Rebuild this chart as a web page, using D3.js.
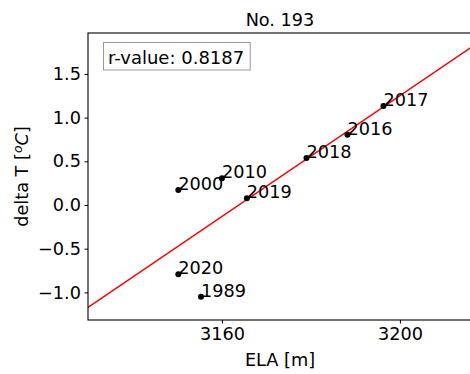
<!DOCTYPE html>
<html>
<head>
<meta charset="utf-8">
<script src="https://cdn.jsdelivr.net/npm/d3@7"></script>
<style>
  html, body { margin: 0; padding: 0; background: #fff; }
  svg { display: block; font-family: "DejaVu Sans", sans-serif; }
</style>
</head>
<body>
<svg id="chart" width="470" height="374"></svg>
<script>
// Glacier No. 193: equilibrium line altitude vs. temperature anomaly
const years = ["2017", "2016", "2018", "2019", "2010", "2000", "2020", "1989"];
const ela = [3196.3, 3188.2, 3179.0, 3165.6, 3160.0, 3150.2, 3150.2, 3155.3];
const deltaT = [1.133, 0.804, 0.538, 0.077, 0.305, 0.172, -0.793, -1.049];
const xTicks = [3160, 3200];
const yTicks = [-1.0, -0.5, 0.0, 0.5, 1.0, 1.5];
const rValue = "0.8187";
const title = "No. 193";

const svg = d3.select("#chart");
const m = { left: 88, right: 472, top: 33, bottom: 320 };
const fs = 17.7;

const x = d3.scaleLinear().domain([3129.9, 3216.2]).range([m.left, m.right]);
const y = d3.scaleLinear().domain([-1.316, 1.968]).range([m.bottom, m.top]);

svg.append("defs").append("clipPath").attr("id", "plotArea")
  .append("rect").attr("x", m.left).attr("y", m.top)
  .attr("width", m.right - m.left).attr("height", m.bottom - m.top);

// least-squares fit of deltaT on ELA
const n = ela.length;
const mx = d3.mean(ela), my = d3.mean(deltaT);
let sxy = 0, sxx = 0;
for (let i = 0; i < n; i++) {
  sxy += (ela[i] - mx) * (deltaT[i] - my);
  sxx += (ela[i] - mx) * (ela[i] - mx);
}
const slope = sxy / sxx, icpt = my - slope * mx;
const [x0, x1] = x.domain();

svg.append("line")
  .attr("clip-path", "url(#plotArea)")
  .attr("x1", x(x0)).attr("y1", y(icpt + slope * x0))
  .attr("x2", x(x1)).attr("y2", y(icpt + slope * x1))
  .attr("stroke", "#ff0000").attr("stroke-width", 1.5);

// points and year labels
const pts = svg.append("g").attr("clip-path", "url(#plotArea)");
years.forEach((yr, i) => {
  pts.append("circle")
    .attr("cx", x(ela[i])).attr("cy", y(deltaT[i])).attr("r", 3)
    .attr("fill", "#000");
  pts.append("text")
    .attr("x", x(ela[i])).attr("y", y(deltaT[i]))
    .attr("font-size", fs).attr("fill", "#000")
    .text(yr);
});

// axes
const xAxis = d3.axisBottom(x).tickValues(xTicks).tickFormat(d3.format("d"))
  .tickSize(3.5).tickPadding(3.5);
const yAxis = d3.axisLeft(y).tickValues(yTicks)
  .tickFormat(d => d3.format(".1f")(d).replace("-", "\u2212"))
  .tickSize(3.5).tickPadding(3.5);

const gx = svg.append("g").attr("transform", `translate(0,${m.bottom})`).call(xAxis);
const gy = svg.append("g").attr("transform", `translate(${m.left},0)`).call(yAxis);
[gx, gy].forEach(g => {
  g.select(".domain").remove();
  g.selectAll("line").attr("stroke", "#000").attr("stroke-width", 1);
  g.selectAll("text").attr("font-size", fs).attr("fill", "#000")
    .attr("font-family", "DejaVu Sans, sans-serif");
});

// frame
svg.append("rect")
  .attr("x", m.left).attr("y", m.top)
  .attr("width", m.right - m.left).attr("height", m.bottom - m.top)
  .attr("fill", "none").attr("stroke", "#000").attr("stroke-width", 1.1);

// r-value box
const box = svg.append("g");
const rt = box.append("text")
  .attr("x", 108).attr("y", 63.5)
  .attr("font-size", 18).attr("fill", "#000")
  .text(`r-value: ${rValue}`);
const bb = rt.node().getBBox();
box.insert("rect", "text")
  .attr("x", 103.5).attr("y", 42.5)
  .attr("width", bb.x + bb.width + 6 - 103.5).attr("height", 27.5)
  .attr("fill", "#fff").attr("stroke", "#999").attr("stroke-width", 1);

// title
svg.append("text")
  .attr("x", (m.left + m.right) / 2).attr("y", 26)
  .attr("text-anchor", "middle").attr("font-size", fs).attr("fill", "#000")
  .text(title);

// axis labels
svg.append("text")
  .attr("x", (m.left + m.right) / 2).attr("y", 366)
  .attr("text-anchor", "middle").attr("font-size", fs).attr("fill", "#000")
  .text("ELA [m]");

const yl = svg.append("text")
  .attr("transform", `translate(28,${(m.top + m.bottom) / 2}) rotate(-90)`)
  .attr("text-anchor", "middle").attr("font-size", fs).attr("fill", "#000");
yl.append("tspan").text("delta T [");
yl.append("tspan").attr("font-style", "italic").attr("font-size", fs * 0.7)
  .attr("dy", -6.5).text("o");
yl.append("tspan").attr("font-style", "italic").attr("dy", 6.5).text("C");
yl.append("tspan").text("]");
</script>
</body>
</html>
